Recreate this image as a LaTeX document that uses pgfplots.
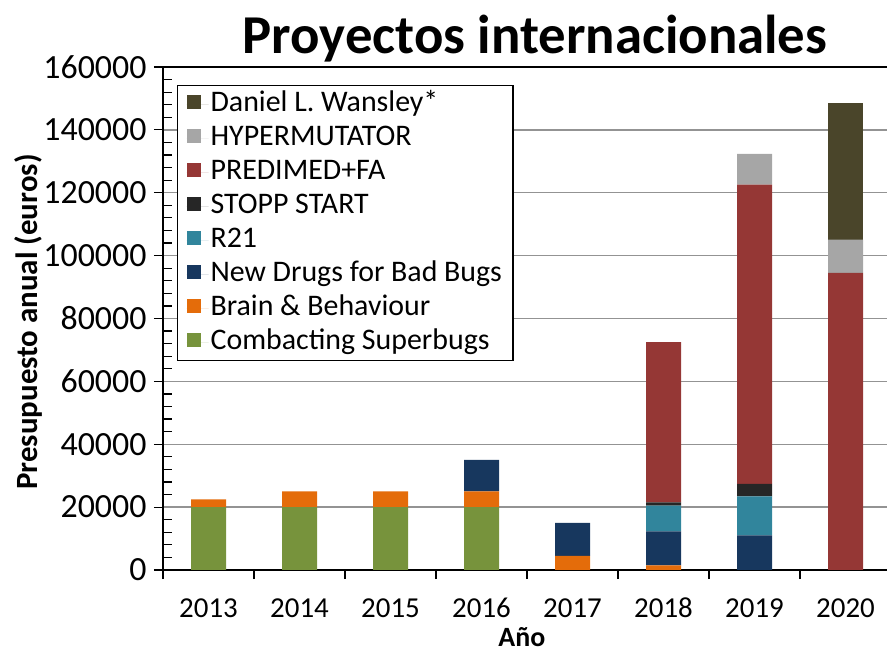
\documentclass[border=0pt]{standalone}
\usepackage{fontspec}
\setmainfont{Carlito}
\usepackage{pgfplots}
\usepackage{pgfplotstable}
\pgfplotsset{compat=1.18}

\definecolor{cgreen}{HTML}{77933C}
\definecolor{corange}{HTML}{E46C0A}
\definecolor{cnavy}{HTML}{17375E}
\definecolor{cteal}{HTML}{31859C}
\definecolor{cblack}{HTML}{262626}
\definecolor{cred}{HTML}{953735}
\definecolor{cgray}{HTML}{A6A6A6}
\definecolor{colive}{HTML}{4A452A}

% presupuesto anual por proyecto (euros)
\pgfplotstableread{
idx green orange navy rtwo stopp red gray olive
0 20000 2500 0 0 0 0 0 0
1 20000 5000 0 0 0 0 0 0
2 20000 5000 0 0 0 0 0 0
3 20000 5000 10000 0 0 0 0 0
4 0 4500 10500 0 0 0 0 0
5 0 1500 10800 8200 1000 51000 0 0
6 0 0 11000 12400 4000 95200 9800 0
7 0 0 0 0 0 94500 10600 43300
}\budget

\begin{document}
\begin{tikzpicture}
\begin{axis}[
  at={(163bp,87bp)}, anchor=south west,
  scale only axis, width=728bp, height=503bp,
  ybar stacked, bar width=35bp,
  xmin=-0.5, xmax=7.5, ymin=0, ymax=160000,
  axis x line*=bottom, axis y line*=left,
  axis line style={-, black, line width=1.5bp},
  xtick={-0.5,0.5,...,7.5}, xticklabels={},
  extra x ticks={0,...,7},
  extra x tick labels={2013,2014,2015,2016,2017,2018,2019,2020},
  extra x tick style={major tick length=0pt},
  ytick={0,20000,...,160000}, minor y tick num=4,
  scaled y ticks=false,
  yticklabel style={/pgf/number format/fixed, /pgf/number format/precision=0,
    /pgf/number format/1000 sep={}, xshift=-4bp,
    font=\fontsize{34}{40}\selectfont},
  /pgf/number format/assume math mode=true,
  tick align=outside, major tick length=9bp, minor tick length=9bp,
  minor tick style={xshift=9bp},
  tick style={black, line width=1.2bp},
  ymajorgrids, grid style={draw=gray!85, line width=1.3bp},
  xticklabel style={anchor=base, yshift=-47bp,
    font=\fontsize{29}{34}\selectfont},
  title={Proyectos internacionales},
  title style={at={(0.511,1)}, anchor=base, yshift=8bp,
    font=\fontsize{55}{66}\selectfont\bfseries},
  ylabel={Presupuesto anual (euros)},
  ylabel style={at={(axis description cs:-0.1854,0.493)}, anchor=center,
    font=\fontsize{31}{37}\selectfont\bfseries},
  xlabel={Año},
  xlabel style={at={(axis description cs:0.493,-0.133)}, anchor=center,
    font=\fontsize{28}{34}\selectfont\bfseries},
  reverse legend,
  legend style={at={(0.0192,0.964)}, anchor=north west, draw=black,
    line width=1.2bp, font=\fontsize{30}{36}\selectfont,
    row sep=4bp, inner xsep=9bp, inner ysep=3.5bp, cells={anchor=west},
    nodes={text height=20bp, text depth=6bp, inner sep=2bp}},
  legend image code/.code={%
    \fill[#1] (0bp,-5bp) rectangle (14bp,9bp);
    \path (0bp,0bp) -- (22bp,0bp);},
]
\addplot[fill=cgreen, draw=none] table[x=idx, y=green]{\budget};
\addlegendentry{Combacting Superbugs}
\addplot[fill=corange, draw=none] table[x=idx, y=orange]{\budget};
\addlegendentry{Brain \& Behaviour}
\addplot[fill=cnavy, draw=none] table[x=idx, y=navy]{\budget};
\addlegendentry{New Drugs for Bad Bugs}
\addplot[fill=cteal, draw=none] table[x=idx, y=rtwo]{\budget};
\addlegendentry{R21}
\addplot[fill=cblack, draw=none] table[x=idx, y=stopp]{\budget};
\addlegendentry{STOPP START}
\addplot[fill=cred, draw=none] table[x=idx, y=red]{\budget};
\addlegendentry{PREDIMED+FA}
\addplot[fill=cgray, draw=none] table[x=idx, y=gray]{\budget};
\addlegendentry{HYPERMUTATOR}
\addplot[fill=colive, draw=none] table[x=idx, y=olive]{\budget};
\addlegendentry{Daniel L. Wansley*}
\draw[black, line width=1.5bp] (rel axis cs:0,1) -- (rel axis cs:1,1);
\end{axis}
\pgfresetboundingbox
\path (0,0) rectangle (887bp,657bp);
\end{tikzpicture}
\end{document}
